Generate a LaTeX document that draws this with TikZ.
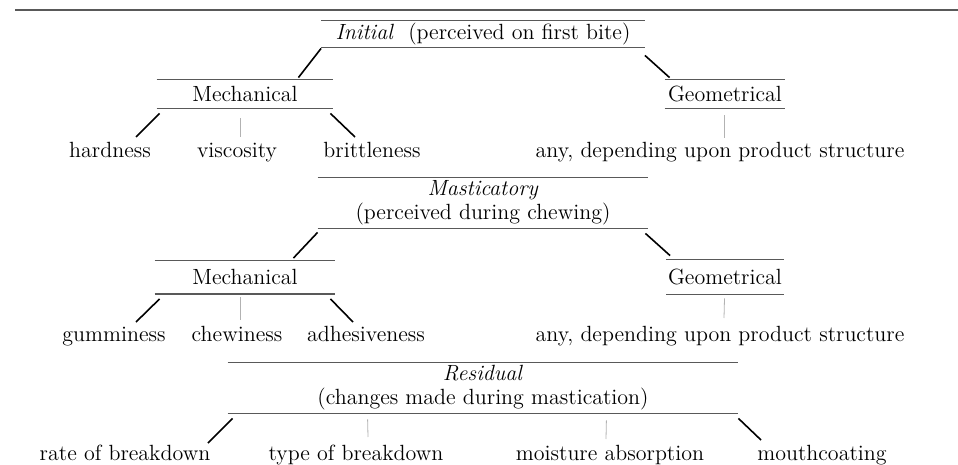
\documentclass[tikz,border=0pt]{standalone}
\usetikzlibrary{calc}

\begin{document}
\begin{tikzpicture}[x=0.5pt, y=-0.5pt,
    heading/.style={inner sep=0pt, align=center,
                    font=\fontsize{11}{12}\selectfont},
    leaf/.style={inner sep=1pt, anchor=base, font=\fontsize{11}{13}\selectfont},
    rule/.style={line width=0.6pt, black!65},
    link/.style={line width=0.8pt},
    faint/.style={line width=0.4pt, black!30}
  ]
    \useasboundingbox (0,0) rectangle (958,465);

    %% Page rule
    \draw[rule] (15,10) -- (958,10);

    %% Initial
    \node[heading, minimum width=161.5pt, minimum height=13pt] (init) at (483,34)
      {\textit{Initial}\ \ (perceived on first bite)};
    \node[heading, minimum width=88pt, minimum height=14pt] (mechA) at (245,94)
      {Mechanical};
    \node[heading, minimum width=60pt, minimum height=14pt] (geoA) at (725,94)
      {Geometrical};
    \node[leaf] (hard) at (110,157) {hardness};
    \node[leaf] (visc) at (237,157) {viscosity};
    \node[leaf] (brit) at (372,157) {brittleness};
    \node[leaf] (anyA) at (720,157) {any, depending upon product structure};

    %% Masticatory
    \node[heading, minimum width=165pt, minimum height=25pt] (mast) at (483,203)
      {\textit{Masticatory}\\(perceived during chewing)};
    \node[heading, minimum width=90pt, minimum height=16.5pt] (mechB) at (245,277)
      {Mechanical};
    \node[heading, minimum width=58.5pt, minimum height=17pt] (geoB) at (725,277)
      {Geometrical};
    \node[leaf] (gum) at (114,341) {gumminess};
    \node[leaf] (chew) at (237,341) {chewiness};
    \node[leaf] (adh) at (366,341) {adhesiveness};
    \node[leaf] (anyB) at (720,341) {any, depending upon product structure};

    %% Residual
    \node[heading, minimum width=255pt, minimum height=25pt] (resid) at (483,388)
      {\textit{Residual}\\(changes made during mastication)};
    \node[leaf] (rate) at (125,460) {rate of breakdown};
    \node[leaf] (type) at (356,460) {type of breakdown};
    \node[leaf] (moist) at (610,460) {moisture absorption};
    \node[leaf] (mouth) at (822,460) {mouthcoating};

    %% Rules above and below each heading
    \foreach \b in {init,mechA,geoA,mast,mechB,geoB,resid}
      \draw[rule] (\b.north west) -- (\b.north east)
                  (\b.south west) -- (\b.south east);

    %% Branches
    \draw[link] ($(init.south west)+(0,1)$) -- ($(mechA.north east)+(-35,-2)$);
    \draw[link] ($(init.south east)+(0,8)$) -- ($(geoA.north west)+(5,-2)$);
    \draw[link] ($(mechA.south west)+(3,5)$) -- ($(hard.base)+(26,-20)$);
    \draw[faint] ($(mechA.south)+(-5,10)$) -- ($(visc.base)+(3,-20)$);
    \draw[link] ($(mechA.south east)+(-3,5)$) -- ($(brit.base)+(-17,-20)$);
    \draw[faint] ($(geoA.south)+(-1,7)$) -- ($(anyA.base)+(4,-19)$);

    \draw[link] ($(mast.south west)+(0,4)$) -- ($(mechB.north east)+(-42,-2)$);
    \draw[link] ($(mast.south east)+(-3,5)$) -- ($(geoB.north west)+(4,-4)$);
    \draw[link] ($(mechB.south west)+(5,5)$) -- ($(gum.base)+(22,-19)$);
    \draw[faint] ($(mechB.south)+(-5,3)$) -- ($(chew.base)+(3,-21)$);
    \draw[link] ($(mechB.south east)+(-5,5)$) -- ($(adh.base)+(-13,-19)$);
    \draw[faint] ($(geoB.south)+(-0.5,4)$) -- ($(anyB.base)+(4,-23)$);

    \draw[link] ($(resid.south west)+(5,5)$) -- ($(rate.base)+(83,-17)$);
    \draw[faint] ($(resid.south west)+(140,6)$) -- ($(type.base)+(12,-23)$);
    \draw[faint] ($(resid.south east)+(-132,7)$) -- ($(moist.base)+(-4,-21)$);
    \draw[link] ($(resid.south east)+(0,5)$) -- ($(mouth.base)+(-61,-20)$);
  \end{tikzpicture}
\end{document}
